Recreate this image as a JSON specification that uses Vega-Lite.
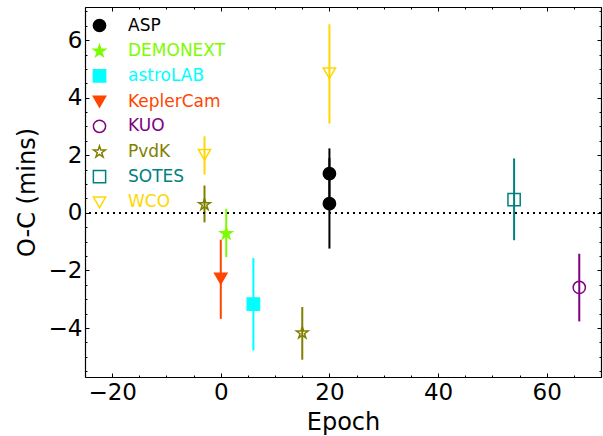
{
  "$schema": "https://vega.github.io/schema/vega-lite/v6.json",
  "autosize": "none",
  "width": 516,
  "height": 370,
  "padding": {"left": 85, "top": 7, "right": 2, "bottom": 59},
  "background": "white",
  "config": {
    "font": "DejaVu Sans",
    "view": {"stroke": null},
    "axis": {
      "grid": false,
      "domainColor": "black",
      "domainWidth": 1.2,
      "tickColor": "black",
      "tickWidth": 1,
      "labelColor": "black",
      "labelFont": "DejaVu Sans",
      "labelFontSize": 23,
      "titleFont": "DejaVu Sans",
      "titleFontSize": 24,
      "titleFontWeight": "normal",
      "titleColor": "black"
    },
    "legend": {
      "orient": "none",
      "legendX": 4,
      "legendY": 8,
      "padding": 2,
      "labelFont": "DejaVu Sans",
      "labelFontSize": 17,
      "labelOffset": 20,
      "rowPadding": 6.7,
      "symbolSize": 150,
      "symbolStrokeWidth": 1.5
    }
  },
  "data": {
    "values": [
      {"inst": "ASP", "epoch": 20, "oc": 1.36, "lo": 0.5, "hi": 2.24},
      {"inst": "ASP", "epoch": 20, "oc": 0.32, "lo": -1.24, "hi": 1.9},
      {"inst": "DEMONEXT", "epoch": 1, "oc": -0.72, "lo": -1.54, "hi": 0.14},
      {"inst": "astroLAB", "epoch": 6, "oc": -3.17, "lo": -4.78, "hi": -1.57},
      {"inst": "KeplerCam", "epoch": 0, "oc": -2.28, "lo": -3.68, "hi": -0.93},
      {"inst": "KUO", "epoch": 66, "oc": -2.59, "lo": -3.77, "hi": -1.42},
      {"inst": "PvdK", "epoch": -3, "oc": 0.29, "lo": -0.33, "hi": 0.95},
      {"inst": "PvdK", "epoch": 15, "oc": -4.17, "lo": -5.1, "hi": -3.27},
      {"inst": "SOTES", "epoch": 54, "oc": 0.46, "lo": -0.95, "hi": 1.89},
      {"inst": "WCO", "epoch": -3, "oc": 2.02, "lo": 1.33, "hi": 2.66},
      {"inst": "WCO", "epoch": 20, "oc": 4.85, "lo": 3.1, "hi": 6.55}
    ]
  },
  "layer": [
    {
      "mark": {"type": "rule", "strokeWidth": 2},
      "encoding": {
        "x": {
          "field": "epoch",
          "type": "quantitative",
          "scale": {"domain": [-25, 70], "nice": false, "zero": false},
          "axis": {
            "orient": "bottom",
            "title": "Epoch",
            "values": [-25, -20, -15, -10, -5, 0, 5, 10, 15, 20, 25, 30, 35, 40, 45, 50, 55, 60, 65, 70],
            "tickSize": {"condition": {"test": "datum.value % 20 === 0", "value": -4}, "value": -2},
            "labelExpr": "datum.value % 20 === 0 ? datum.label : ''",
            "labelPadding": 8,
            "titlePadding": 6
          }
        },
        "y": {
          "field": "lo",
          "type": "quantitative",
          "scale": {"domain": [-5.7, 7.15], "nice": false, "zero": false},
          "axis": {
            "orient": "left",
            "title": "O-C (mins)",
            "values": [-5.5, -5, -4.5, -4, -3.5, -3, -2.5, -2, -1.5, -1, -0.5, 0, 0.5, 1, 1.5, 2, 2.5, 3, 3.5, 4, 4.5, 5, 5.5, 6, 6.5, 7],
            "tickSize": {"condition": {"test": "datum.value % 2 === 0", "value": -4}, "value": -2},
            "labelExpr": "datum.value % 2 === 0 ? replace(toString(datum.value), '-', '\u2212') : ''",
            "labelPadding": 7,
            "titlePadding": 9
          }
        },
        "y2": {"field": "hi"},
        "color": {
          "field": "inst",
          "type": "nominal",
          "legend": null,
          "scale": {
            "domain": ["WCO", "SOTES", "PvdK", "KUO", "KeplerCam", "astroLAB", "DEMONEXT", "ASP"],
            "range": ["#FFD700", "#008080", "#808000", "#800080", "#FF4500", "#00FFFF", "#7CFC00", "black"]
          }
        }
      }
    },
    {
      "mark": {"type": "rule", "strokeDash": [2, 4], "strokeWidth": 2, "color": "black"},
      "encoding": {
        "y": {"datum": 0, "type": "quantitative", "axis": null}
      }
    },
    {
      "mark": {"type": "point", "size": 150, "strokeWidth": 1.5, "opacity": 1},
      "encoding": {
        "x": {
          "field": "epoch",
          "type": "quantitative",
          "axis": {
            "orient": "top",
            "title": null,
            "labels": false,
            "values": [-25, -20, -15, -10, -5, 0, 5, 10, 15, 20, 25, 30, 35, 40, 45, 50, 55, 60, 65, 70],
            "tickSize": {"condition": {"test": "datum.value % 20 === 0", "value": -4}, "value": -2}
          }
        },
        "y": {
          "field": "oc",
          "type": "quantitative",
          "axis": {
            "orient": "right",
            "title": null,
            "labels": false,
            "values": [-5.5, -5, -4.5, -4, -3.5, -3, -2.5, -2, -1.5, -1, -0.5, 0, 0.5, 1, 1.5, 2, 2.5, 3, 3.5, 4, 4.5, 5, 5.5, 6, 6.5, 7],
            "tickSize": {"condition": {"test": "datum.value % 2 === 0", "value": -4}, "value": -2}
          }
        },
        "stroke": {
          "field": "inst",
          "type": "nominal",
          "title": null,
          "scale": {
            "domain": ["ASP", "DEMONEXT", "astroLAB", "KeplerCam", "KUO", "PvdK", "SOTES", "WCO"],
            "range": ["black", "#7CFC00", "#00FFFF", "#FF4500", "#800080", "#808000", "#008080", "#FFD700"]
          },
          "legend": {
            "encoding": {
              "labels": {"fill": {"value": {"expr": "scale('stroke', datum.value)"}}}
            }
          }
        },
        "fill": {
          "field": "inst",
          "type": "nominal",
          "title": null,
          "scale": {
            "domain": ["ASP", "DEMONEXT", "astroLAB", "KeplerCam", "KUO", "PvdK", "SOTES", "WCO"],
            "range": ["black", "#7CFC00", "#00FFFF", "#FF4500", "transparent", "transparent", "transparent", "transparent"]
          }
        },
        "shape": {
          "field": "inst",
          "type": "nominal",
          "title": null,
          "scale": {
            "domain": ["ASP", "DEMONEXT", "astroLAB", "KeplerCam", "KUO", "PvdK", "SOTES", "WCO"],
            "range": [
              "circle",
              "M0,-1L0.225,-0.309L0.951,-0.309L0.363,0.118L0.588,0.809L0,0.382L-0.588,0.809L-0.363,0.118L-0.951,-0.309L-0.225,-0.309Z",
              "square",
              "triangle-down",
              "circle",
              "M0,-1L0.225,-0.309L0.951,-0.309L0.363,0.118L0.588,0.809L0,0.382L-0.588,0.809L-0.363,0.118L-0.951,-0.309L-0.225,-0.309Z",
              "square",
              "triangle-down"
            ]
          }
        }
      }
    }
  ],
  "resolve": {"axis": {"x": "independent", "y": "independent"}}
}
